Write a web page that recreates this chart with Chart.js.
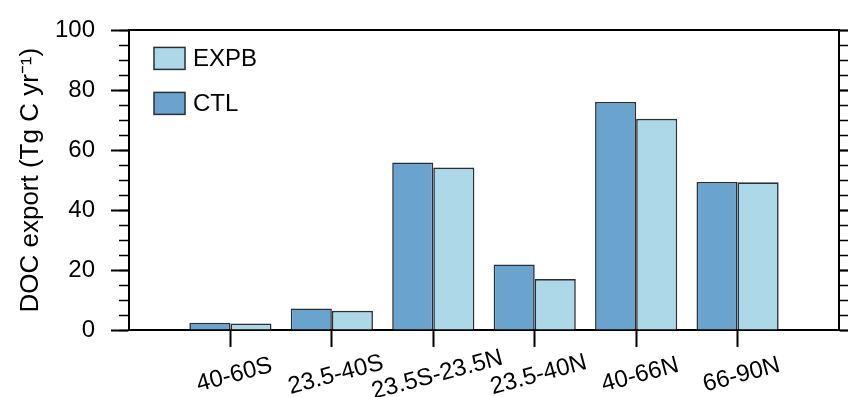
<!DOCTYPE html>
<html>
<head>
<meta charset="utf-8">
<script src="https://cdn.jsdelivr.net/npm/chart.js@4/dist/chart.umd.min.js"></script>
<style>
  html, body { margin: 0; padding: 0; background: #fff; }
  canvas { display: block; }
</style>
</head>
<body>
<canvas id="docChart" width="848" height="397"></canvas>
<script>
// latitude bands and DOC export values (Tg C yr-1)
const regions = ['40-60S', '23.5-40S', '23.5S-23.5N', '23.5-40N', '40-66N', '66-90N'];
const ctlValues = [2.4, 7.2, 55.9, 21.9, 76.1, 49.4];
const expbValues = [2.2, 6.4, 54.2, 17.0, 70.5, 49.3];
const yTicksMajor = [0, 20, 40, 60, 80, 100];

const fontFamily = "'Liberation Sans', Arial, Helvetica, sans-serif";
Chart.defaults.font.family = fontFamily;
Chart.defaults.color = '#000';

// empty slots at both ends so the groups sit like in the original
const labels = [''].concat(regions, ['']);
const padData = arr => [null].concat(arr, [null]);

// legend drawn inside the plot, top-left, last dataset first
const insideLegend = {
    id: 'insideLegend',
    afterDraw(chart) {
        const ctx = chart.ctx;
        const area = chart.chartArea;
        const sets = chart.data.datasets.slice().reverse();
        ctx.save();
        ctx.font = '24px ' + fontFamily;
        ctx.textBaseline = 'middle';
        ctx.textAlign = 'left';
        sets.forEach((ds, k) => {
            const bx = area.left + 25;
            const by = area.top + 17 + k * 45;
            ctx.fillStyle = ds.backgroundColor;
            ctx.fillRect(bx, by, 31, 22);
            ctx.lineWidth = 1.5;
            ctx.strokeStyle = ds.borderColor;
            ctx.strokeRect(bx, by, 31, 22);
            ctx.fillStyle = '#000';
            ctx.fillText(ds.label, bx + 39, by + 12);
        });
        ctx.restore();
    }
};

// slanted category labels, centred under each tick
const slantLabels = {
    id: 'slantLabels',
    afterDraw(chart) {
        const ctx = chart.ctx;
        const scale = chart.scales.x;
        ctx.save();
        ctx.font = '24px ' + fontFamily;
        ctx.fillStyle = '#000';
        ctx.textAlign = 'center';
        ctx.textBaseline = 'middle';
        chart.data.labels.forEach((lab, i) => {
            if (!lab) return;
            const x = scale.getPixelForTick(i) + 4;
            const y = scale.top + 45;
            ctx.save();
            ctx.translate(x, y);
            ctx.rotate(-15 * Math.PI / 180);
            ctx.fillText(lab, 0, 0);
            ctx.restore();
        });
        ctx.restore();
    }
};

const endTickColor = c => (c.index === 0 || c.index === labels.length - 1) ? 'rgba(0,0,0,0)' : '#000';

const ctx = document.getElementById('docChart').getContext('2d');
const docChart = new Chart(ctx, {
    type: 'bar',
    data: {
        labels: labels,
        datasets: [{
            label: 'CTL',
            data: padData(ctlValues),
            backgroundColor: '#6aa3cd',
            borderColor: '#2a2f35',
            borderWidth: 1.6,
            xAxisID: 'x',
            yAxisID: 'y'
        }, {
            label: 'EXPB',
            data: padData(expbValues),
            backgroundColor: '#add8e8',
            borderColor: '#2a2f35',
            borderWidth: 1.6,
            xAxisID: 'x',
            yAxisID: 'y'
        }]
    },
    options: {
        responsive: false,
        animation: false,
        devicePixelRatio: 1,
        categoryPercentage: 0.81,
        barPercentage: 1.0,
        layout: { padding: { top: 25, left: 0, right: 0, bottom: 0 } },
        plugins: {
            legend: { display: false },
            tooltip: { enabled: false }
        },
        scales: {
            x: {
                type: 'category',
                position: 'bottom',
                offset: false,
                grid: {
                    offset: false,
                    drawOnChartArea: false,
                    tickLength: 17,
                    tickWidth: 2,
                    tickColor: endTickColor
                },
                border: { display: true, color: '#000', width: 2 },
                ticks: { display: false },
                afterFit(scale) { scale.height = 67; }
            },
            xTop: {
                type: 'category',
                position: 'top',
                offset: false,
                grid: { drawOnChartArea: false, drawTicks: false },
                border: { display: true, color: '#000', width: 2 },
                ticks: { display: false }
            },
            y: {
                type: 'linear',
                position: 'left',
                weight: 1,
                min: 0,
                max: 100,
                afterBuildTicks(scale) {
                    scale.ticks = yTicksMajor.map(v => ({ value: v }));
                },
                ticks: { font: { size: 24 }, padding: 16, color: '#000' },
                grid: { drawOnChartArea: false, tickLength: 18, tickWidth: 2, tickColor: '#000' },
                border: { display: true, color: '#000', width: 2 },
                title: {
                    display: true,
                    text: 'DOC export (Tg C yr\u207B\u00B9)',
                    font: { size: 26 },
                    color: '#000',
                    padding: { top: 15, bottom: 0 }
                },
                afterFit(scale) { scale.width = 129; }
            },
            yMinor: {
                type: 'linear',
                position: 'left',
                weight: 0,
                min: 0,
                max: 100,
                ticks: { display: false, stepSize: 5 },
                grid: { drawOnChartArea: false, tickLength: 10, tickWidth: 1.5, tickColor: '#000' },
                border: { display: false },
                afterFit(scale) { scale.width = 0; }
            },
            yRight: {
                type: 'linear',
                position: 'right',
                weight: 1,
                min: 0,
                max: 100,
                afterBuildTicks(scale) {
                    scale.ticks = yTicksMajor.map(v => ({ value: v }));
                },
                ticks: { display: false },
                grid: { drawOnChartArea: false, tickLength: 18, tickWidth: 2, tickColor: '#000' },
                border: { display: true, color: '#000', width: 2 },
                afterFit(scale) { scale.width = 9; }
            },
            yRightMinor: {
                type: 'linear',
                position: 'right',
                weight: 0,
                min: 0,
                max: 100,
                ticks: { display: false, stepSize: 5 },
                grid: { drawOnChartArea: false, tickLength: 10, tickWidth: 1.5, tickColor: '#000' },
                border: { display: false },
                afterFit(scale) { scale.width = 0; }
            }
        }
    },
    plugins: [insideLegend, slantLabels]
});
</script>
</body>
</html>
